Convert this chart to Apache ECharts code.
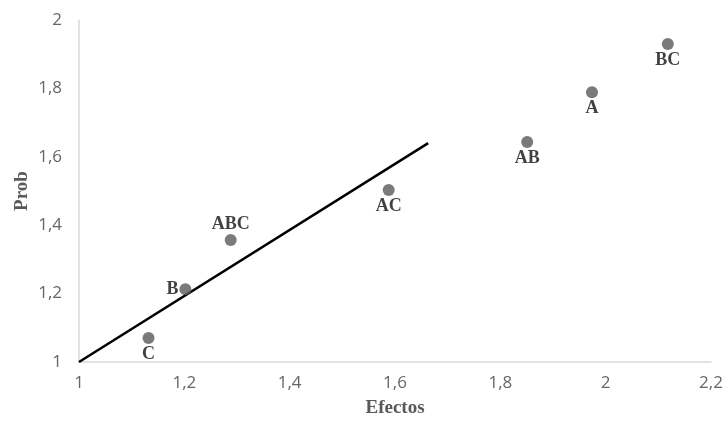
<!DOCTYPE html>
<html>
<head>
<meta charset="utf-8">
<script src="https://cdn.jsdelivr.net/npm/echarts@6/dist/echarts.min.js"></script>
<style>
  html, body { margin: 0; padding: 0; background: #fff; }
  #chart { width: 724px; height: 425px; }
</style>
</head>
<body>
<div id="chart"></div>
<script>
// Effect names with their x (Efectos) and y (Prob) values
const effectNames = ['C', 'B', 'ABC', 'AC', 'AB', 'A', 'BC'];
const effectX = [1.132, 1.202, 1.288, 1.588, 1.851, 1.974, 2.118];
const effectY = [1.07, 1.213, 1.357, 1.503, 1.643, 1.789, 1.93];
const labelSides = ['bottom', 'left', 'top', 'bottom', 'bottom', 'bottom', 'bottom'];

// Reference line endpoints
const lineX = [1, 1.663];
const lineY = [1, 1.64];

const fmt = v => String(Math.round(v * 10) / 10).replace('.', ',');

const points = effectNames.map((n, i) => ({
  name: n,
  value: [effectX[i], effectY[i]],
  label: { position: labelSides[i] }
}));

const chart = echarts.init(document.getElementById('chart'));
chart.setOption({
  animation: false,
  grid: { left: 79, right: 13, top: 20, bottom: 63, containLabel: false, outerBoundsMode: 'none' },
  xAxis: {
    type: 'value', min: 1, max: 2.2, interval: 0.2,
    name: 'Efectos', nameLocation: 'middle', nameGap: 37, nameMoveOverlap: false,
    nameTextStyle: { fontFamily: 'Liberation Serif', fontWeight: 'bold', fontSize: 19, color: '#595959' },
    axisLine: { lineStyle: { color: '#d9d9d9', width: 1.5 } },
    axisTick: { show: false },
    splitLine: { show: false },
    axisLabel: { formatter: fmt, color: '#666', fontSize: 17, fontFamily: 'Open Sans', margin: 13 }
  },
  yAxis: {
    type: 'value', min: 1, max: 2, interval: 0.2,
    name: 'Prob', nameLocation: 'middle', nameGap: 47, nameMoveOverlap: false,
    nameTextStyle: { fontFamily: 'Liberation Serif', fontWeight: 'bold', fontSize: 19, color: '#595959' },
    axisLine: { show: true, lineStyle: { color: '#d9d9d9', width: 1.5 } },
    axisTick: { show: false },
    splitLine: { show: false },
    axisLabel: { formatter: fmt, color: '#666', fontSize: 17, fontFamily: 'Open Sans', margin: 17 }
  },
  series: [
    {
      type: 'line',
      data: lineX.map((x, i) => [x, lineY[i]]),
      showSymbol: false,
      lineStyle: { color: '#000', width: 2.5 },
      z: 2
    },
    {
      type: 'scatter',
      data: points,
      symbolSize: 12,
      itemStyle: { color: '#595959' },
      label: {
        show: true,
        formatter: p => p.name,
        fontFamily: 'Liberation Serif',
        fontWeight: 'bold',
        fontSize: 18,
        color: '#111',
        distance: 1
      },
      z: 3
    }
  ]
});
</script>
</body>
</html>
